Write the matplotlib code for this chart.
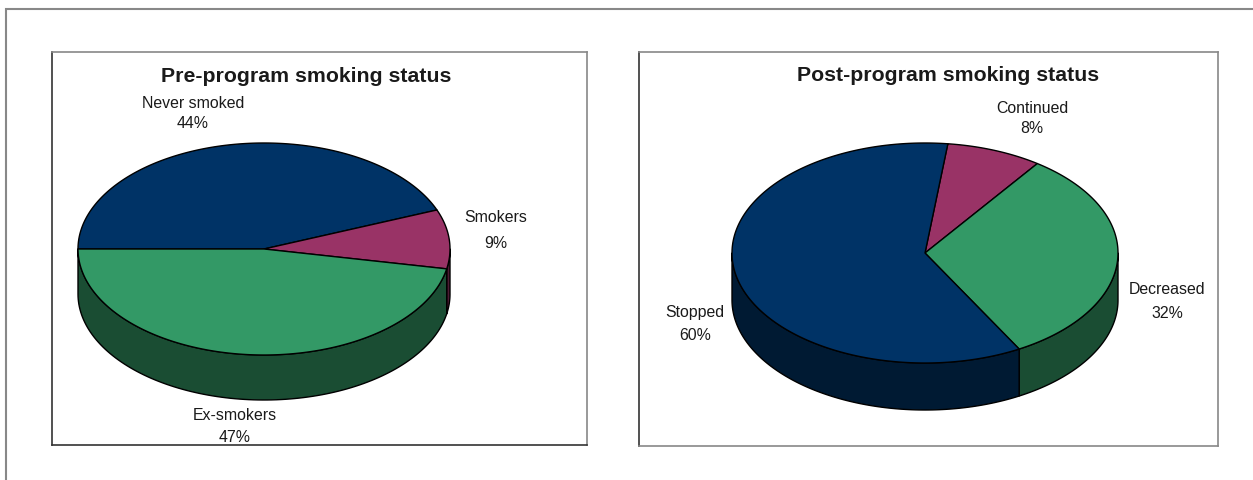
import numpy as np
import matplotlib
matplotlib.use("Agg")
import matplotlib.pyplot as plt
from matplotlib.patches import Polygon, Rectangle

plt.rcParams['font.family'] = ['Liberation Sans', 'DejaVu Sans']

# Данные
pre_labels = ["Never smoked", "Smokers", "Ex-smokers"]
pre_values = [44, 9, 47]
post_labels = ["Continued", "Decreased", "Stopped"]
post_values = [8, 32, 60]

NAVY, MAROON, GREEN = "#003366", "#993366", "#339966"
NAVY_D, MAROON_D, GREEN_D = "#001a33", "#4d1a33", "#1a4d33"

W, H = 1253, 480


def panel(fig, x0, y0, x1, y1, bottom_dark=True):
    w, h = x1 - x0, y1 - y0
    ax = fig.add_axes([x0 / W, 1 - y1 / H, w / W, h / H])
    ax.set_xlim(0, w)
    ax.set_ylim(h, 0)
    ax.set_xticks([])
    ax.set_yticks([])
    ax.spines['left'].set_color("#333333")
    ax.spines['bottom'].set_color("#333333" if bottom_dark else "#888888")
    ax.spines['top'].set_color("#888888")
    ax.spines['right'].set_color("#888888")
    for s in ax.spines.values():
        s.set_linewidth(1.2)
    return ax


def pie3d(ax, values, colors, side_colors, start, cx, cy, a, b, depth):
    vals = np.array(values, dtype=float)
    angles = start - 360 * np.concatenate([[0], np.cumsum(vals)]) / vals.sum()
    # боковые стенки (видна только нижняя половина)
    for i in range(len(vals)):
        t1, t2 = angles[i], angles[i + 1]
        for k in range(-2, 3):
            lo = max(t2, 360 * k - 180)
            hi = min(t1, 360 * k)
            if hi <= lo:
                continue
            th = np.radians(np.linspace(hi, lo, 120))
            xs = cx + a * np.cos(th)
            ys = cy - b * np.sin(th)
            pts = np.column_stack([np.concatenate([xs, xs[::-1]]),
                                   np.concatenate([ys, ys[::-1] + depth])])
            ax.add_patch(Polygon(pts, closed=True, facecolor=side_colors[i],
                                 edgecolor="black", lw=1.0, joinstyle="round"))
    # верхняя поверхность
    for i in range(len(vals)):
        th = np.radians(np.linspace(angles[i], angles[i + 1], 240))
        xs = np.concatenate([[cx], cx + a * np.cos(th)])
        ys = np.concatenate([[cy], cy - b * np.sin(th)])
        ax.add_patch(Polygon(np.column_stack([xs, ys]), closed=True,
                             facecolor=colors[i], edgecolor="black", lw=1.0,
                             joinstyle="round"))


def label(ax, x, y, name, val, gap=20):
    ax.text(x, y, name, ha="center", va="center", fontsize=11.4, color="#1a1a1a")
    ax.text(x, y + gap, f"{val}%", ha="center", va="center", fontsize=11.4,
            color="#1a1a1a")


fig = plt.figure(figsize=(W / 100, H / 100), dpi=100)

# внешняя рамка
fig.patches.append(Rectangle((6 / W, -0.1), 1.2, 1 - 9 / H + 0.1,
                             transform=fig.transFigure, fill=False,
                             edgecolor="#888888", lw=1.5))

# Левая диаграмма
x0, y0 = 52, 52
ax1 = panel(fig, x0, y0, 587, 445)
pie3d(ax1, pre_values, [NAVY, MAROON, GREEN], [NAVY_D, MAROON_D, GREEN_D],
      180, 264 - x0, 249 - y0, 186, 106, 45)
ax1.text(306 - x0, 76 - y0, "Pre-program smoking status", ha="center",
         va="center", fontsize=15.3, fontweight="bold", color="#1a1a1a")
label(ax1, 193 - x0, 103 - y0, pre_labels[0], pre_values[0])
label(ax1, 496 - x0, 218 - y0, pre_labels[1], pre_values[1], gap=25)
label(ax1, 235 - x0, 416 - y0, pre_labels[2], pre_values[2], gap=21)

# Правая диаграмма
x0, y0 = 639, 52
ax2 = panel(fig, x0, y0, 1218, 446, bottom_dark=False)
pie3d(ax2, post_values, [MAROON, GREEN, NAVY], [MAROON_D, GREEN_D, NAVY_D],
      83.2, 925 - x0, 253 - y0, 193, 110, 47)
ax2.text(948 - x0, 75 - y0, "Post-program smoking status", ha="center",
         va="center", fontsize=15.3, fontweight="bold", color="#1a1a1a")
label(ax2, 1032 - x0, 108 - y0, post_labels[0], post_values[0])
label(ax2, 1167 - x0, 290 - y0, post_labels[1], post_values[1], gap=23)
label(ax2, 695 - x0, 313 - y0, post_labels[2], post_values[2], gap=23)

fig.savefig("out.png", dpi=100)
